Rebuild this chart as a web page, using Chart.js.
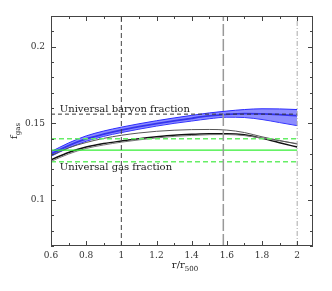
<!DOCTYPE html>
<html><head><meta charset="utf-8">
<script src="https://cdn.jsdelivr.net/npm/chart.js@4/dist/chart.umd.min.js"></script>
<style>html,body{margin:0;padding:0;background:#fff}#wrap{width:332px;height:291px}</style>
</head><body><div id="wrap"><canvas id="c" width="332" height="291"></canvas></div>
<script>
const radius = [0.6,0.7,0.8,0.9,1.0,1.1,1.2,1.3,1.4,1.5,1.6,1.7,1.8,1.9,2.0];
const blueCentral = [0.1300,0.1355,0.1398,0.1430,0.1456,0.1478,0.1498,0.1516,0.1533,0.1548,0.1558,0.1563,0.1562,0.1557,0.1550];
const blueUpper   = [0.1315,0.1372,0.1418,0.1450,0.1475,0.1497,0.1517,0.1535,0.1552,0.1568,0.1580,0.1590,0.1595,0.1594,0.1590];
const blueLower   = [0.1285,0.1340,0.1383,0.1415,0.1440,0.1462,0.1482,0.1500,0.1515,0.1530,0.1540,0.1538,0.1525,0.1505,0.1485];
const grayUpper   = [0.1290,0.1340,0.1375,0.1402,0.1422,0.1437,0.1448,0.1455,0.1459,0.1460,0.1456,0.1440,0.1412,0.1388,0.1365];
const blackMain   = [0.1262,0.1310,0.1345,0.1368,0.1385,0.1400,0.1412,0.1422,0.1428,0.1432,0.1432,0.1425,0.1402,0.1374,0.1345];
const grayLower   = [0.1252,0.1300,0.1336,0.1359,0.1377,0.1392,0.1405,0.1415,0.1421,0.1426,0.1427,0.1420,0.1404,0.1386,0.1368];
const baryonFraction = 0.156;
const gasFractionLow = 0.125, gasFraction = 0.1325, gasFractionHigh = 0.14;
const verticalMarkers = [1.0, 1.58, 2.0];
const xTicks = [0.6,0.8,1.0,1.2,1.4,1.6,1.8,2.0];
const yTicks = [0.1,0.15,0.2];
const xRange = [0.6, 2.09], yRange = [0.07, 0.22];
const labelBaryon = 'Universal baryon fraction';
const labelGas = 'Universal gas fraction';

const pts = arr => radius.map((r,i)=>({x:r,y:arr[i]}));
const hline = v => [{x:0.6,y:v},{x:2.0,y:v}];
const vline = v => [{x:v,y:yRange[0]},{x:v,y:yRange[1]}];
const FONT = '"DejaVu Serif", serif';

const ds = [
  {data:vline(verticalMarkers[0]), borderColor:'#444', borderWidth:1, borderDash:[5,3]},
  {data:vline(verticalMarkers[1]), borderColor:'#999', borderWidth:1.5, borderDash:[12,3]},
  {data:vline(verticalMarkers[2]), borderColor:'#aaa', borderWidth:1, borderDash:[5,2,1,2]},
  {data:hline(baryonFraction), borderColor:'#333', borderWidth:1, borderDash:[4,3]},
  {data:hline(gasFractionHigh), borderColor:'#66ee66', borderWidth:1.5, borderDash:[5,3]},
  {data:hline(gasFraction), borderColor:'#33ee33', borderWidth:1.2},
  {data:hline(gasFractionLow), borderColor:'#66ee66', borderWidth:1.5, borderDash:[5,3]},
  {data:pts(grayUpper), borderColor:'#555', borderWidth:1, cubicInterpolationMode:'monotone'},
  {data:pts(grayLower), borderColor:'#777', borderWidth:1, cubicInterpolationMode:'monotone'},
  {data:pts(blackMain), borderColor:'#111', borderWidth:1.5, cubicInterpolationMode:'monotone'},
  {data:pts(blueUpper), borderColor:'#2a2aff', borderWidth:1, fill:'+1', backgroundColor:'rgba(80,80,255,0.65)', cubicInterpolationMode:'monotone'},
  {data:pts(blueLower), borderColor:'#2a2aff', borderWidth:1, cubicInterpolationMode:'monotone'},
  {data:pts(blueCentral), borderColor:'#0000cc', borderWidth:1.8, cubicInterpolationMode:'monotone'}
];
ds.forEach(d=>{d.pointRadius=0; if(d.fill===undefined) d.fill=false;});

const decor = {
  id:'decor',
  afterDatasetsDraw(chart){
    const {ctx, chartArea:a, scales:{x,y}} = chart;
    ctx.save();
    ctx.strokeStyle='#444'; ctx.lineWidth=1;
    ctx.strokeRect(a.left+0.5, a.top+0.5, a.right-a.left-1, a.bottom-a.top-1);
    ctx.beginPath();
    for(let k=6;k<=20;k++){
      const v=k/10, px=Math.round(x.getPixelForValue(v))+0.5, L=(k%2===0)?5:3;
      ctx.moveTo(px,a.bottom); ctx.lineTo(px,a.bottom-L);
      ctx.moveTo(px,a.top); ctx.lineTo(px,a.top+L);
    }
    for(let k=7;k<=22;k++){
      const v=k/100, py=Math.round(y.getPixelForValue(v))+0.5, L=(k%5===0)?5:3;
      ctx.moveTo(a.left,py); ctx.lineTo(a.left+L,py);
      ctx.moveTo(a.right,py); ctx.lineTo(a.right-L,py);
    }
    ctx.stroke();
    ctx.fillStyle='#222';
    ctx.font='10px '+FONT; ctx.textBaseline='middle'; ctx.textAlign='left';
    ctx.fillText(labelBaryon, x.getPixelForValue(0.65), y.getPixelForValue(0.1588));
    ctx.fillText(labelGas, x.getPixelForValue(0.65), y.getPixelForValue(0.1215));
    // x axis title
    ctx.textBaseline='alphabetic';
    ctx.font='10px '+FONT;
    const cx=(a.left+a.right)/2+3;
    const t1='r/r', w1=ctx.measureText(t1).width;
    ctx.font='7px '+FONT; const w2=ctx.measureText('500').width;
    let sx=cx-(w1+w2)/2;
    ctx.font='10px '+FONT; ctx.fillText(t1,sx,268);
    ctx.font='7px '+FONT; ctx.fillText('500',sx+w1,271);
    // y axis title
    ctx.translate(17,(a.top+a.bottom)/2);
    ctx.rotate(-Math.PI/2);
    ctx.font='10px '+FONT; ctx.textAlign='left';
    const wf=ctx.measureText('f').width;
    ctx.font='7px '+FONT; const wg=ctx.measureText('gas').width;
    const s0=-(wf+wg)/2;
    ctx.font='10px '+FONT; ctx.fillText('f',s0,0);
    ctx.font='7px '+FONT; ctx.fillText('gas',s0+wf,3);
    ctx.restore();
  }
};

new Chart(document.getElementById('c'),{
  type:'line',
  data:{datasets:ds},
  options:{
    responsive:false, devicePixelRatio:1, animation:false,
    layout:{padding:{left:0,top:16,right:19,bottom:0}},
    plugins:{legend:{display:false},tooltip:{enabled:false}},
    scales:{
      x:{type:'linear',min:xRange[0],max:xRange[1],
        grid:{display:false,drawTicks:false},border:{display:false},
        afterBuildTicks:s=>{s.ticks=xTicks.map(v=>({value:v}));},
        afterFit:s=>{s.height=45;},
        ticks:{padding:4,color:'#333',font:{family:FONT,size:9},maxRotation:0,autoSkip:false,
          callback:v=>String(Number(v.toFixed(2)))}},
      y:{type:'linear',min:yRange[0],max:yRange[1],
        grid:{display:false,drawTicks:false},border:{display:false},
        afterBuildTicks:s=>{s.ticks=yTicks.map(v=>({value:v}));},
        afterFit:s=>{s.width=51;},
        ticks:{padding:6,color:'#333',font:{family:FONT,size:9},
          callback:v=>String(Number(v.toFixed(2)))}}
    }
  },
  plugins:[decor]
});
</script></body></html>
